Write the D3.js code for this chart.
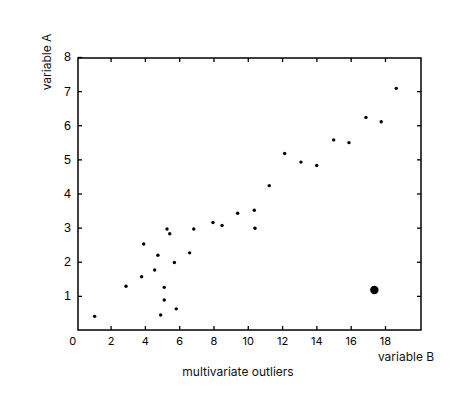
<!DOCTYPE html>
<html>
<head>
<meta charset="utf-8">
<script src="https://cdn.jsdelivr.net/npm/d3@7"></script>
<style>
  body{margin:0;background:#fff;}
  .xt text{font-family:Inter,"Noto Sans",sans-serif;font-size:11px;}
  .yt text{font-family:"Liberation Sans",Arial,sans-serif;font-size:12.5px;}
  .title{font-family:Inter,"Noto Sans",sans-serif;font-size:12px;fill:#111;}
</style>
</head>
<body>
<div class="chart"></div>
<script>
// values
var varB=[1.07,2.9,3.81,3.93,4.57,4.76,4.92,5.13,5.13,5.29,5.45,5.72,5.83,6.61,6.85,7.97,8.5,9.41,10.38,10.42,11.25,12.15,13.1,14.02,15.01,15.9,16.89,17.78,18.66];
var varA=[0.40,1.28,1.56,2.52,1.76,2.19,0.44,1.25,0.88,2.96,2.82,1.98,0.62,2.26,2.96,3.15,3.06,3.42,3.51,2.98,4.23,5.17,4.92,4.82,5.57,5.49,6.23,6.10,7.08];
var outlierB=[17.38];
var outlierA=[1.17];
var xTicks=[0,2,4,6,8,10,12,14,16,18];
var yTicks=[1,2,3,4,5,6,7,8];

var W=474, H=395;
var mLeft=78, mRight=421, mTop=58, mBottom=330;

var svg=d3.select(".chart").append("svg")
  .attr("width", W)
  .attr("height", H);

var x=d3.scaleLinear().domain([0.1,20.1]).range([mLeft,mRight]);
var y=d3.scaleLinear().domain([0,7.97]).range([mBottom,mTop]);

// bottom ticks + labels (ticks point inward)
var xb=svg.append("g")
  .attr("class","xt")
  .attr("transform","translate(0,"+mBottom+")")
  .call(d3.axisBottom(x).tickValues(xTicks).tickSizeInner(-4).tickSizeOuter(0).tickPadding(7).tickFormat(d3.format("d")));
xb.select(".domain").remove();
xb.selectAll(".tick").filter(function(d){return d==0;}).select("line").remove();
xb.selectAll(".tick").filter(function(d){return d==0;}).select("text").attr("dx",-4);

// top mirror ticks
var xt=svg.append("g")
  .attr("transform","translate(0,"+mTop+")")
  .call(d3.axisTop(x).tickValues(xTicks.filter(function(d){return d>0;})).tickSizeInner(-4).tickSizeOuter(0).tickFormat(""));
xt.select(".domain").remove();

// left ticks + labels
var yl=svg.append("g")
  .attr("class","yt")
  .attr("transform","translate("+mLeft+",0)")
  .call(d3.axisLeft(y).tickValues(yTicks).tickSizeInner(-4).tickSizeOuter(0).tickPadding(7));
yl.select(".domain").remove();

// right mirror ticks
var yr=svg.append("g")
  .attr("transform","translate("+mRight+",0)")
  .call(d3.axisRight(y).tickValues(yTicks.filter(function(d){return d<8;})).tickSizeInner(-4).tickSizeOuter(0).tickFormat(""));
yr.select(".domain").remove();

svg.selectAll(".tick line").attr("stroke","#000").attr("stroke-width",1.3);
svg.selectAll(".tick text").attr("fill","#000");

// frame
svg.append("rect")
  .attr("x",mLeft).attr("y",mTop)
  .attr("width",mRight-mLeft).attr("height",mBottom-mTop)
  .attr("fill","none").attr("stroke","#000").attr("stroke-width",1.5);

// points
svg.append("g").selectAll("circle")
  .data(varB.map(function(d,i){return [d,varA[i]];}))
  .enter()
  .append("circle")
  .attr("cx",function(d){return x(d[0]);})
  .attr("cy",function(d){return y(d[1]);})
  .attr("r",1.7)
  .attr("fill","#000");

svg.append("g").selectAll("circle")
  .data(outlierB.map(function(d,i){return [d,outlierA[i]];}))
  .enter()
  .append("circle")
  .attr("cx",function(d){return x(d[0]);})
  .attr("cy",function(d){return y(d[1]);})
  .attr("r",4.2)
  .attr("fill","#000");

// titles
svg.append("text")
  .attr("class","title")
  .attr("transform","translate(51,62) rotate(-90)")
  .attr("text-anchor","middle")
  .text("variable A");

svg.append("text")
  .attr("class","title")
  .attr("x",406).attr("y",361)
  .attr("text-anchor","middle")
  .text("variable B");

svg.append("text")
  .attr("class","title")
  .attr("x",238).attr("y",376)
  .attr("text-anchor","middle")
  .text("multivariate outliers");
</script>
</body>
</html>
